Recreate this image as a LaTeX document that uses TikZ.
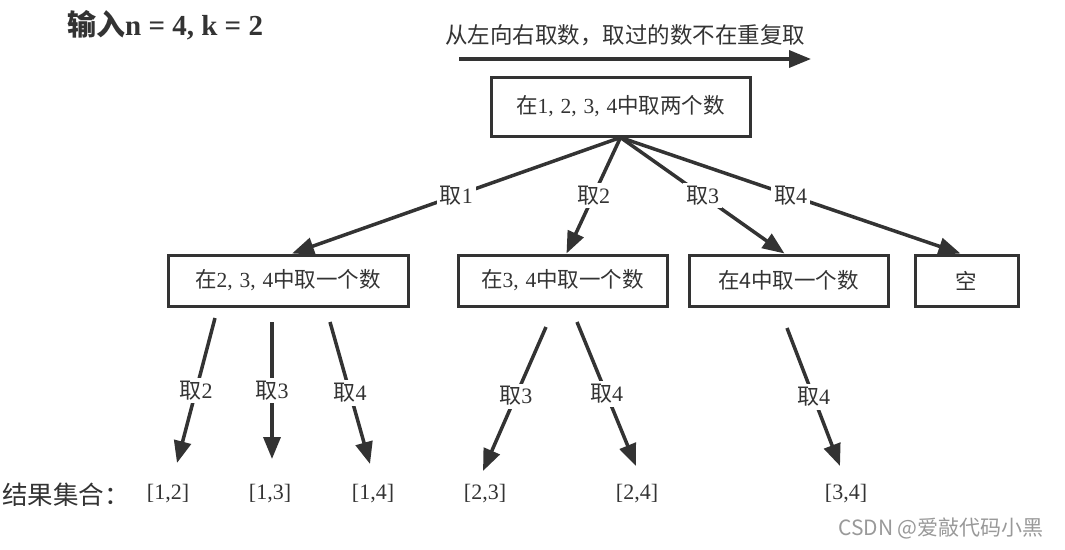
\documentclass[tikz,border=0pt]{standalone}
\usepackage{fontspec}
\setmainfont{Liberation Serif}
\newfontfamily\cjk{Noto Sans CJK SC}
\usetikzlibrary{arrows.meta}
\definecolor{ink}{HTML}{333333}
\newcommand{\cs}{,\hspace{0.32em}}
\begin{document}
\begin{tikzpicture}[x=1pt,y=-1pt,
  box/.style={draw=ink, line width=3pt, minimum height=51pt, inner sep=0pt, font=\fontsize{21.5}{25}\selectfont, text=ink},
  edge/.style={draw=ink, line width=3.5pt, -{Triangle[length=22pt,width=17pt]}},
  lbl/.style={fill=white, inner sep=3pt, font=\fontsize{22}{25}\selectfont, text=ink},
  res/.style={font=\fontsize{22}{25}\selectfont, text=ink}]
\useasboundingbox (0,0) rectangle (1065,549);
% title
\node[anchor=west, text=ink, font=\fontsize{29}{32}\selectfont\bfseries, inner sep=0pt] (title) at (67,25) {{\cjk 输入}n = 4, k = 2};
% top direction text and arrow
\node[text=ink, font=\fontsize{22.5}{26}\selectfont\cjk, inner sep=0pt] (dir) at (625,35) {从左向右取数，取过的数不在重复取};
\coordinate (da) at (459,59);
\coordinate (db) at (811,59);
\draw[edge] (da) -- (db);
% boxes
\node[box, minimum width=259pt, minimum height=59pt] (root) at (620.5,106.5) {{\cjk 在}1\cs2\cs3\cs4{\cjk 中取两个数}};
\node[box, minimum width=240pt] (b1) at (288,280.5) {{\cjk 在}2\cs3\cs4{\cjk 中取一个数}};
\node[box, minimum width=209pt] (b2) at (562.5,280.5) {{\cjk 在}3\cs4{\cjk 中取一个数}};
\node[box, minimum width=199pt] (b3) at (788.5,280.5) {\cjk 在4中取一个数};
\node[box, minimum width=103pt] (b4) at (966.5,280.5) {\cjk 空};
% level 1 edges
\draw[edge] (root.south) -- ([xshift=4pt]b1.north) node[lbl, pos=0.5] {{\cjk 取}1};
\draw[edge] (root.south) -- ([xshift=4pt]b2.north) node[lbl, pos=0.5] {{\cjk 取}2};
\draw[edge] (root.south) -- ([xshift=-4pt]b3.north) node[lbl, pos=0.5] {{\cjk 取}3};
\draw[edge] (root.south) -- ([xshift=-6pt]b4.north) node[lbl, pos=0.5] {{\cjk 取}4};
% results
\node[res, font=\fontsize{25.5}{28}\selectfont\cjk, anchor=west, inner sep=0pt] (rl) at (2,495) {结果集合：};
\node[res] (r12) at (168,494) {[1,2]};
\node[res] (r13) at (270,494) {[1,3]};
\node[res] (r14) at (373,494) {[1,4]};
\node[res] (r23) at (485,494) {[2,3]};
\node[res] (r24) at (637,494) {[2,4]};
\node[res] (r34) at (846,494) {[3,4]};
% level 2 edges
\coordinate (s1) at (215,318); \coordinate (e1) at (177,463);
\coordinate (s2) at (272,322); \coordinate (e2) at (272,459);
\coordinate (s3) at (330,322); \coordinate (e3) at (370,464);
\coordinate (s4) at (546,327); \coordinate (e4) at (483,471);
\coordinate (s5) at (577,322); \coordinate (e5) at (636,466);
\coordinate (s6) at (787,328); \coordinate (e6) at (840,466);
\draw[edge] (s1) -- (e1) node[lbl, pos=0.5] {{\cjk 取}2};
\draw[edge] (s2) -- (e2) node[lbl, pos=0.5] {{\cjk 取}3};
\draw[edge] (s3) -- (e3) node[lbl, pos=0.5] {{\cjk 取}4};
\draw[edge] (s4) -- (e4) node[lbl, pos=0.48] {{\cjk 取}3};
\draw[edge] (s5) -- (e5) node[lbl, pos=0.5] {{\cjk 取}4};
\draw[edge] (s6) -- (e6) node[lbl, pos=0.5] {{\cjk 取}4};
% watermark
\node[text=black!40, font=\fontsize{21}{24}\selectfont\cjk, inner sep=0pt] (wm) at (941,528) {CSDN @爱敲代码小黑};
\end{tikzpicture}
\end{document}
